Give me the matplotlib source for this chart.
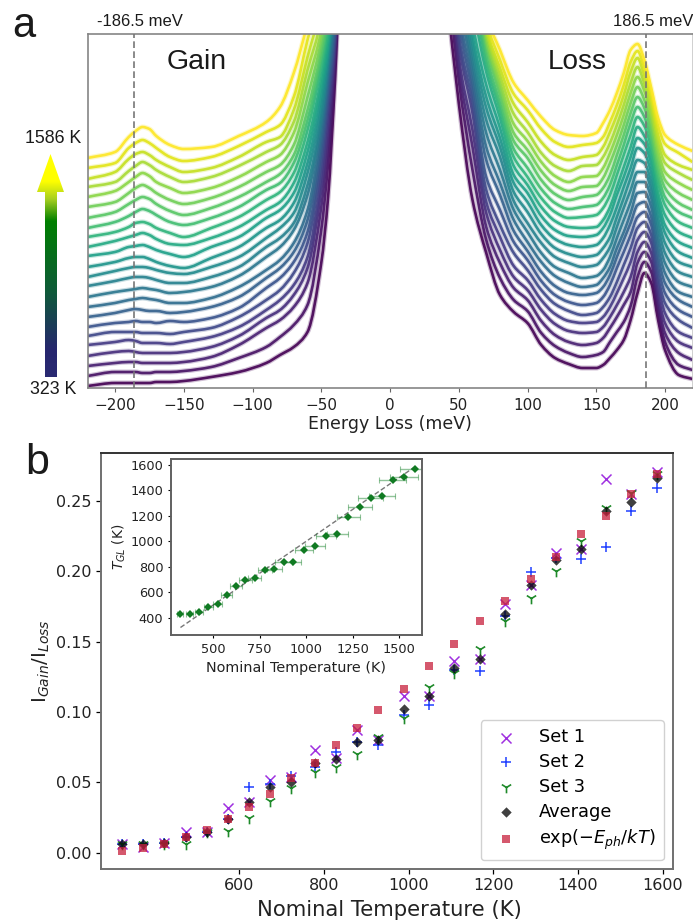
import numpy as np
import matplotlib
matplotlib.use("Agg")
import matplotlib.pyplot as plt
from matplotlib.colors import LinearSegmentedColormap
from matplotlib.patches import Polygon, PathPatch
from matplotlib.path import Path

W, H = 693, 921

# Panel a: curve heights (pixels above the axis, arbitrary intensity)
# Gain columns: coolest (323 K) first
energy_gain = [-220, -200, -190, -185, -180, -175, -170, -160, -150, -130, -110, -90, -80, -70, -60, -50, -45, -40, -35]
g_m220 = [2,12,22,32,43,52,61,71,81,91,102,111,121,132,141,151,160,170,181,191,201,209,220,230]
g_m200 = [5,16,25,36,46,56,65,75,85,96,107,117,126,136,147,156,166,176,186,197,206,216,225,236]
g_m190 = [5,16,26,37,48,56,66,78,88,98,110,120,130,141,151,161,172,184,195,206,217,229,240,251]
g_m185 = [5,16,26,36,47,56,67,79,89,99,111,121,131,142,153,165,176,188,200,211,222,234,245,257]
g_m180 = [5,15,25,35,45,55,66,78,90,100,111,121,131,143,155,166,179,191,203,215,226,236,248,261]
g_m175 = [5,15,25,35,45,55,66,77,89,99,110,120,129,141,153,164,177,189,200,212,223,233,245,259]
g_m170 = [6,16,25,35,45,55,65,77,88,98,108,118,126,138,149,160,173,184,195,206,218,228,240,252]
g_m160 = [6,16,25,35,44,54,67,75,85,95,105,115,122,134,144,155,166,177,188,200,211,221,231,243]
g_m150 = [7,17,26,36,46,56,66,76,85,96,105,114,120,131,143,151,163,173,184,195,206,216,227,239]
g_m130 = [11,21,31,41,51,60,70,81,90,101,111,121,130,141,150,160,170,180,190,200,211,220,231,241]
g_m110 = [16,30,43,52,61,71,80,91,101,112,121,131,141,151,161,171,181,191,201,211,222,231,242,252]
g_m90 = [25,41,60,70,78,88,100,110,118,131,141,150,160,170,178,188,198,206,216,226,236,246,256,266]
g_m80 = [33,51,68,78,88,98,110,120,128,141,150,160,168,178,186,196,205,214,223,233,243,251,263,281]
g_m70 = [41,63,81,93,103,115,126,136,145,158,165,175,185,195,205,215,225,233,243,255,266,278,291,315]
g_m60 = [56,83,105,120,131,145,156,168,178,193,203,215,225,236,246,258,268,278,291,305,318,331,348,365]
g_m50 = [125,158,181,198,211,225,235,245,255,265,271,281,291,301,310,321,330,338,348,358,370,385,400,430]
g_m45 = [191,225,245,262,275,288,298,306,315,323,330,335,340,346,353,360,370,380,395,410,430,450,480,520]
g_m40 = [308,325,335,345,353,358,365,372,380,390,400,410,420,430,440,450,460,470,480,500,520,540,570,600]
g_m35 = [450,470,490,510,530,550,570,590,610,630,650,670,690,710,730,750,770,790,810,830,850,870,890,920]

# Loss columns: hottest (1586 K) first
energy_loss = [35, 45, 50, 60, 70, 80, 90, 100, 110, 120, 130, 140, 150, 155, 160, 165, 170, 175, 180, 185, 190, 195, 200, 210, 220]
l_35 = [920,890,870,850,830,810,790,770,750,730,710,690,670,650,630,610,590,570,550,530,510,490,470,450]
l_45 = [760,730,710,690,670,650,630,610,590,570,555,540,525,510,495,480,465,450,435,420,405,390,368,345]
l_50 = [680,650,630,610,590,570,550,530,510,490,470,455,440,425,410,395,380,368,354,345,331,321,308,285]
l_60 = [560,540,520,500,480,460,440,420,405,385,365,353,344,334,325,316,306,296,286,275,258,241,218,188]
l_70 = [375,369,362,358,352,348,342,333,325,316,303,291,280,268,255,241,228,211,198,186,175,161,148,135]
l_80 = [338,328,320,313,306,300,293,285,278,270,260,250,241,231,218,205,193,178,163,151,138,125,110,93]
l_90 = [305,294,284,274,264,255,247,239,231,222,213,205,196,187,178,168,157,146,135,122,111,100,88,76]
l_100 = [288,278,266,256,247,238,230,220,211,203,195,186,176,165,156,146,137,128,118,108,98,88,77,65]
l_110 = [271,259,246,235,226,217,208,199,190,181,172,163,154,145,135,126,116,107,98,88,78,67,55,43]
l_120 = [258,246,233,222,212,203,194,185,176,167,158,149,140,131,121,112,102,93,84,74,64,53,42,30]
l_130 = [253,241,228,217,206,197,188,179,170,161,152,143,134,125,115,105,95,86,77,67,57,46,35,24]
l_140 = [252,243,231,222,211,201,191,181,171,160,151,141,131,121,110,101,93,83,73,65,55,43,31,20]
l_150 = [255,245,233,223,212,202,193,183,173,161,153,143,133,123,112,103,95,85,75,66,56,45,33,20]
l_155 = [265,251,241,231,220,210,200,190,180,168,160,150,140,130,118,110,101,91,81,71,61,50,36,23]
l_160 = [278,266,256,245,235,225,213,203,193,181,173,163,151,141,131,121,113,103,91,81,71,60,46,30]
l_165 = [295,283,273,263,253,243,233,223,213,201,193,181,171,161,150,140,131,120,106,95,83,71,56,38]
l_170 = [315,303,293,283,273,263,253,243,233,221,211,201,190,180,168,156,148,136,123,110,96,83,66,48]
l_175 = [338,326,316,305,295,285,275,265,253,241,231,220,210,198,186,175,165,153,140,126,111,96,82,68]
l_180 = [344,337,330,321,311,301,291,281,271,261,250,240,228,216,206,195,183,171,160,148,136,125,111,95]
l_185 = [328,320,312,304,297,288,280,271,262,252,244,235,225,216,206,196,186,176,166,156,146,136,126,115]
l_190 = [300,294,287,279,272,264,256,248,240,232,224,215,206,198,190,181,171,163,153,145,135,126,116,105]
l_195 = [270,262,253,245,237,229,221,213,205,195,188,180,170,161,151,141,131,121,111,103,93,85,78,68]
l_200 = [253,244,233,225,216,208,200,191,183,173,163,155,145,135,125,115,105,95,85,75,65,55,46,38]
l_210 = [243,235,223,215,205,195,185,176,166,156,146,136,126,116,106,96,88,78,68,56,46,35,23,13]
l_220 = [237,226,218,208,198,188,178,170,160,150,140,130,121,111,101,91,81,71,60,50,40,28,18,9]

# Panel b
nominal_T = [323,373,423,473,523,573,623,673,723,778,828,878,928,988,1048,1108,1168,1228,1288,1348,1408,1466,1526,1586]
set1 = [.0062,.0043,.0071,.0149,.0149,.0320,.0360,.0520,.0535,.0727,.0670,.0871,.0800,.1117,.1117,.1364,.1375,.1766,.1899,.2126,.2157,.2654,.2547,.2706]
set2 = [.0062,.0066,.0071,.0114,.0149,.0237,.0464,.0490,.0545,.0610,.0715,.0786,.0765,.0982,.1053,.1297,.1290,.1683,.1991,.2090,.2086,.2173,.2424,.2592]
set3 = [.0060,.0066,.0066,.0062,.0145,.0154,.0249,.0367,.0457,.0575,.0610,.0705,.0824,.0959,.1174,.1274,.1447,.1648,.1806,.2003,.2216,.2446,.2557,.2689]
average = [.0062,.0066,.0071,.0114,.0149,.0237,.0362,.0464,.0500,.0639,.0665,.0786,.0798,.1023,.1117,.1309,.1375,.1695,.1899,.2079,.2157,.2429,.2493,.2659]
boltzmann = [.0014,.0036,.0062,.0109,.0161,.0237,.0322,.0421,.0528,.0639,.0769,.0883,.1011,.1162,.1328,.1482,.1645,.1787,.1941,.2102,.2266,.2393,.2547,.2689]

# Inset
T_GL = [429,426,445,481,510,578,646,696,714,777,782,838,840,932,963,1042,1060,1191,1267,1338,1359,1482,1503,1571]
T_err = [16,19,21,24,26,29,31,34,36,39,41,44,46,49,52,55,58,61,64,67,70,73,76,79]

a_xticks = [-200, -150, -100, -50, 0, 50, 100, 150, 200]
b_xticks = [600, 800, 1000, 1200, 1400, 1600]
b_yticks = [0.00, 0.05, 0.10, 0.15, 0.20, 0.25]
in_xticks = [500, 750, 1000, 1250, 1500]
in_yticks = [400, 600, 800, 1000, 1200, 1400, 1600]

fig = plt.figure(figsize=(W / 100, H / 100), dpi=100)


def box(l, t, r, b):
    return [l / W, 1 - b / H, (r - l) / W, (b - t) / H]


def label(x, y, s, size, **kw):
    fig.text(x / W, 1 - y / H, s, fontsize=size, ha="center", va="center",
             family="Liberation Sans", color="#1a1a1a", **kw)


def smooth_path(x, y):
    """Bezier line through the read points, with monotone tangents (no overshoot)."""
    dx = np.diff(x)
    s = np.diff(y) / dx
    m = np.zeros_like(y)
    m[0], m[-1] = s[0], s[-1]
    for i in range(1, len(x) - 1):
        if s[i - 1] * s[i] > 0:
            w1 = 2 * dx[i] + dx[i - 1]
            w2 = dx[i] + 2 * dx[i - 1]
            m[i] = (w1 + w2) / (w1 / s[i - 1] + w2 / s[i])
    verts = [(x[0], y[0])]
    codes = [Path.MOVETO]
    for i in range(len(x) - 1):
        verts += [(x[i] + dx[i] / 3, y[i] + m[i] * dx[i] / 3),
                  (x[i + 1] - dx[i] / 3, y[i + 1] - m[i + 1] * dx[i] / 3),
                  (x[i + 1], y[i + 1])]
        codes += [Path.CURVE4] * 3
    return Path(verts, codes)


# ---------- panel a ----------
ax = fig.add_axes(box(87.5, 34.5, 692.5, 388))
gain_cols = [g_m220, g_m200, g_m190, g_m185, g_m180, g_m175, g_m170, g_m160, g_m150, g_m130,
             g_m110, g_m90, g_m80, g_m70, g_m60, g_m50, g_m45, g_m40, g_m35]
loss_cols = [l_35, l_45, l_50, l_60, l_70, l_80, l_90, l_100, l_110, l_120, l_130, l_140, l_150,
             l_155, l_160, l_165, l_170, l_175, l_180, l_185, l_190, l_195, l_200, l_210, l_220]
gain = np.array(gain_cols, dtype=float)
loss = np.array(loss_cols, dtype=float)[:, ::-1]
energy = np.array(energy_gain + energy_loss, dtype=float)
curves = np.vstack([gain, loss]).T
colors = plt.cm.viridis(np.linspace(0, 1, curves.shape[0]))[:, :3]
for c, col in zip(curves, colors):
    p = smooth_path(energy, c)
    ax.add_patch(PathPatch(p, fc="none", ec=col, lw=3.6, alpha=0.25, joinstyle="round"))
    ax.add_patch(PathPatch(p, fc="none", ec=col, lw=1.9, alpha=0.9, joinstyle="round"))
ax.axvline(-186.5, color="#777777", lw=1.2, ls=(0, (4, 2)), zorder=5)
ax.axvline(186.5, color="#777777", lw=1.2, ls=(0, (4, 2)), zorder=5)
ax.set_xlim(-220, 220)
ax.set_ylim(0, 353.5)
ax.set_yticks([])
ax.set_xticks(a_xticks)
ax.tick_params(axis="x", labelsize=11, length=3, width=0.8, color="#666666",
               labelcolor="#222222", pad=4.5)
ax.set_xlabel("Energy Loss (meV)", fontsize=12.5, color="#222222", labelpad=1.5)
for s in ax.spines.values():
    s.set_color("#858585")
    s.set_linewidth(1.2)
ax.spines["right"].set_color("#c8c8c8")

# gradient arrow
arrow_ax = fig.add_axes(box(37, 154, 64, 377))
arrow_ax.axis("off")
arrow_cmap = LinearSegmentedColormap.from_list(
    "arrow", [(0, "#2a2a72"), (0.12, "#26266e"), (0.38, "#0f5a3a"), (0.70, "#008000"),
              (0.80, "#a8d020"), (0.88, "#ffff00"), (1, "#ffff00")])
gradient = np.linspace(1, 0, 256).reshape(-1, 1)
img = arrow_ax.imshow(gradient, cmap=arrow_cmap, extent=[0, 27, 0, 223], aspect="auto", vmin=0, vmax=1)
arrow_shape = Polygon([(8, 0), (20, 0), (20, 185), (27, 185), (13.5, 223), (0, 185), (8, 185)],
                      closed=True, transform=arrow_ax.transData, fc="none", ec="none")
arrow_ax.add_patch(arrow_shape)
img.set_clip_path(arrow_shape)

label(53, 138, "1586 K", 12.8)
label(53, 390, "323 K", 12.8)
label(24, 26, "a", 30)
label(37, 463, "b", 31)
label(197, 62, "Gain", 20.5)
label(577, 62, "Loss", 20.2)
label(140, 22, "-186.5 meV", 12)
label(653.5, 22, "186.5 meV", 12)

# ---------- panel b ----------
bx = fig.add_axes(box(101, 453, 672.7, 869))
bx.scatter(nominal_T, set1, marker="x", s=52, color="#a030e0", lw=1.1, label="Set 1")
bx.scatter(nominal_T, set2, marker="+", s=60, color="#2040ff", lw=1.1, label="Set 2")
bx.scatter(nominal_T, set3, marker="1", s=70, color="#1f8a2a", lw=1.2, label="Set 3")
bx.scatter(nominal_T, average, marker="D", s=28, color="black", alpha=0.75, lw=0, label="Average")
bx.scatter(nominal_T, boltzmann, marker="s", s=32, color="#c8203c", alpha=0.75, lw=0,
           label=r"exp($-E_{ph}/kT$)")
bx.set_xlim(273, 1624)
bx.set_ylim(-0.0115, 0.2839)
bx.set_xticks(b_xticks)
bx.set_yticks(b_yticks)
bx.set_yticklabels([f"{v:.2f}" for v in b_yticks])
bx.tick_params(labelsize=11.5, length=3.5, width=0.9, labelcolor="#222222", pad=3)
bx.set_xlabel("Nominal Temperature (K)", fontsize=15.2, color="#222222", labelpad=5)
bx.xaxis.label.set_x(0.505)
bx.set_ylabel(r"I$_{Gain}$/I$_{Loss}$", fontsize=14.3, color="#222222", labelpad=3)
for side, s in bx.spines.items():
    s.set_linewidth(1.4)
    s.set_color("#707070")
bx.spines["top"].set_color("#333333")
bx.legend(loc="lower right", fontsize=12.8, labelspacing=0.39, handletextpad=0.85, borderpad=0.45,
          framealpha=0.9, edgecolor="#cccccc")

# ---------- inset ----------
inset = fig.add_axes(box(171, 459, 422, 635))
inset.plot(nominal_T, nominal_T, color="#777777", lw=1.0, ls=(0, (3.5, 1.8)), zorder=1)
inset.errorbar(nominal_T, T_GL, xerr=T_err, fmt="none", ecolor="#0a7a1e", alpha=0.45,
               elinewidth=1.0, capsize=2, capthick=0.8, zorder=2)
inset.plot(nominal_T, T_GL, ls="none", marker="D", ms=4.2, color="#107a22", mew=0, zorder=3)
inset.set_xlim(272, 1624)
inset.set_ylim(264, 1647)
inset.set_xticks(in_xticks)
inset.set_yticks(in_yticks)
inset.tick_params(labelsize=9.3, length=2.5, width=0.8, labelcolor="#222222", pad=3)
inset.set_xlabel("Nominal Temperature (K)", fontsize=10.4, color="#222222", labelpad=4)
inset.set_ylabel(r"$T_{GL}$ (K)", fontsize=9.9, color="#222222", labelpad=2)
for s in inset.spines.values():
    s.set_linewidth(1.4)
    s.set_color("#606060")

fig.savefig("out.png", dpi=100)
